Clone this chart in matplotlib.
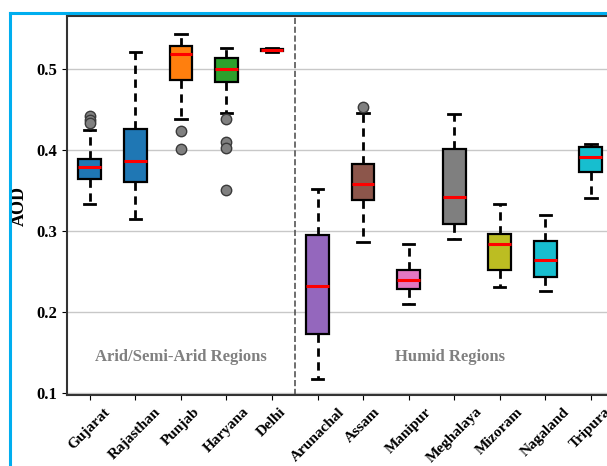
import matplotlib.pyplot as plt
from matplotlib.lines import Line2D

# data (AOD box statistics)
regions = ['Gujarat', 'Rajasthan', 'Punjab', 'Haryana', 'Delhi',
           'Arunachal', 'Assam', 'Manipur', 'Meghalaya', 'Mizoram', 'Nagaland', 'Tripura']
whis_lo = [0.333, 0.314, 0.438, 0.445, 0.521, 0.117, 0.286, 0.209, 0.290, 0.230, 0.225, 0.340]
q1 = [0.364, 0.360, 0.486, 0.484, 0.522, 0.173, 0.338, 0.228, 0.308, 0.251, 0.243, 0.373]
median = [0.378, 0.386, 0.518, 0.500, 0.523, 0.232, 0.358, 0.239, 0.341, 0.283, 0.264, 0.391]
q3 = [0.389, 0.426, 0.528, 0.513, 0.524, 0.295, 0.382, 0.252, 0.401, 0.296, 0.287, 0.403]
whis_hi = [0.424, 0.520, 0.543, 0.526, 0.525, 0.351, 0.445, 0.284, 0.444, 0.333, 0.319, 0.407]
outliers = [[0.441, 0.437, 0.433], [], [0.423, 0.401], [0.438, 0.410, 0.402, 0.350], [],
            [], [0.453], [], [], [], [], []]
box_colors = ['#1f77b4', '#1f77b4', '#ff7f0e', '#2ca02c', '#d62728', '#9467bd',
              '#8c564b', '#e377c2', '#7f7f7f', '#bcbd22', '#17becf', '#17becf']

plt.rcParams['font.family'] = ['Liberation Serif', 'DejaVu Serif']
plt.rcParams['font.weight'] = 'bold'

fig = plt.figure(figsize=(6.07, 4.66), dpi=100)
ax = fig.add_axes([0.1104, 0.1513, 0.9005, 0.8144])

stats = []
for i, name in enumerate(regions):
    stats.append({'label': name, 'whislo': whis_lo[i], 'q1': q1[i], 'med': median[i],
                  'q3': q3[i], 'whishi': whis_hi[i], 'fliers': outliers[i]})

positions = list(range(1, len(regions) + 1))
bp = ax.bxp(stats, positions=positions, widths=0.5, patch_artist=True,
            boxprops=dict(edgecolor='black', linewidth=1.6),
            whiskerprops=dict(color='black', linewidth=2, linestyle=(0, (3, 2))),
            capprops=dict(color='black', linewidth=2),
            medianprops=dict(color='red', linewidth=2.2),
            flierprops=dict(marker='o', markerfacecolor='#808080', markeredgecolor='#3a3a3a',
                            markersize=7.5, markeredgewidth=1))
for patch, c in zip(bp['boxes'], box_colors):
    patch.set_facecolor(c)

# separator between climate groups
ax.axvline(5.5, color='#555555', linestyle='--', linewidth=1.2)

ax.text(3, 0.144, 'Arid/Semi-Arid Regions', ha='center', va='center',
        fontsize=12, color='#808080', fontweight='bold')
ax.text(8.9, 0.144, 'Humid Regions', ha='center', va='center',
        fontsize=12, color='#808080', fontweight='bold')

ax.set_xlim(0.5, 12.5)
ax.set_ylim(0.0966, 0.565)
ax.set_yticks([0.1, 0.2, 0.3, 0.4, 0.5])
ax.yaxis.grid(True, color='#c8c8c8', linewidth=1)
ax.set_axisbelow(True)
ax.set_xticks(positions)
ax.set_xticklabels(regions, rotation=45, ha='center', fontsize=11)
ax.tick_params(axis='y', labelsize=12)
ax.set_ylabel('AOD', fontsize=13, fontweight='bold')
ax.yaxis.set_label_coords(-0.071, 0.5)
for s in ax.spines.values():
    s.set_color('#333333')
    s.set_linewidth(1.5)

# blue frame of the screenshot
fig.add_artist(Line2D([10 / 607, 10 / 607], [0, 1 - 13 / 466], color='#00aeef', linewidth=2.2))
fig.add_artist(Line2D([10 / 607, 1], [1 - 13 / 466, 1 - 13 / 466], color='#00aeef', linewidth=2.2))

fig.savefig('out.png', dpi=100)
